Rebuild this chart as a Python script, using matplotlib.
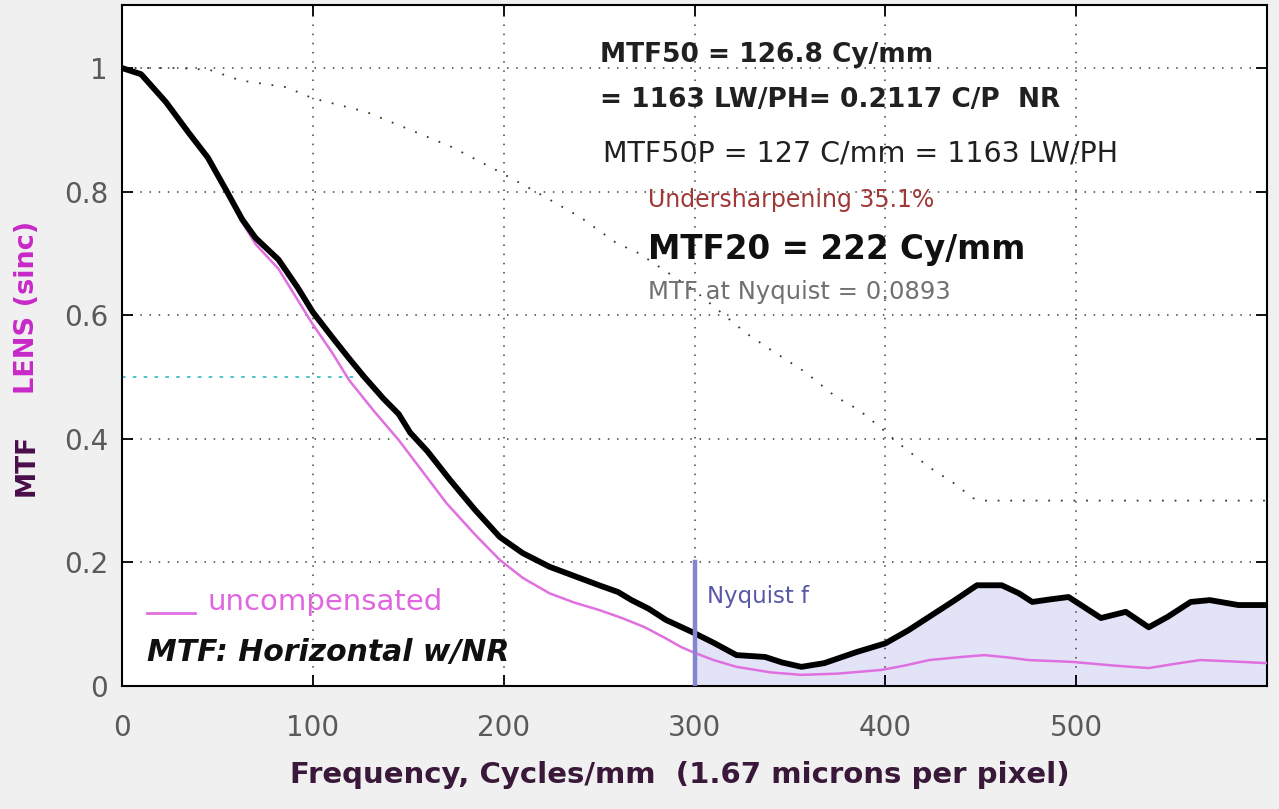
import matplotlib
matplotlib.use('Agg')
import matplotlib.pyplot as plt
import numpy as np

# MTF (with noise reduction), black curve
freq_nr = [0, 10, 23, 35, 45, 55, 63, 70, 82, 92, 100, 110, 119, 127, 137, 145, 151, 160,
           172, 185, 198, 210, 224, 237, 250, 260, 267, 276, 285, 299, 310, 322, 337, 346,
           356, 368, 385, 400, 412, 423, 436, 448, 461, 470, 477, 486, 496, 505, 513, 526,
           538, 548, 560, 570, 585, 600]
mtf_nr = [1.0, 0.99, 0.945, 0.895, 0.855, 0.80, 0.755, 0.725, 0.69, 0.645, 0.605, 0.565,
          0.53, 0.50, 0.465, 0.44, 0.41, 0.38, 0.333, 0.285, 0.241, 0.215, 0.193, 0.178,
          0.163, 0.152, 0.139, 0.125, 0.107, 0.087, 0.07, 0.05, 0.047, 0.038, 0.031, 0.037,
          0.055, 0.069, 0.09, 0.112, 0.138, 0.163, 0.163, 0.15, 0.136, 0.14, 0.144, 0.126,
          0.11, 0.12, 0.095, 0.112, 0.136, 0.139, 0.131, 0.131]

# uncompensated MTF, pink curve
freq_unc = [0, 10, 23, 35, 45, 55, 63, 70, 82, 92, 100, 110, 119, 132, 145, 158, 170, 185,
            198, 210, 224, 237, 250, 262, 274, 285, 293, 299, 310, 322, 340, 356, 375, 398,
            410, 423, 440, 452, 465, 475, 498, 520, 538, 552, 565, 580, 600]
mtf_unc = [1.0, 0.99, 0.945, 0.895, 0.855, 0.80, 0.75, 0.715, 0.675, 0.625, 0.585, 0.54,
           0.495, 0.445, 0.398, 0.345, 0.296, 0.245, 0.204, 0.175, 0.15, 0.135, 0.123, 0.11,
           0.095, 0.077, 0.063, 0.055, 0.042, 0.031, 0.022, 0.018, 0.02, 0.026, 0.033, 0.042,
           0.047, 0.05, 0.046, 0.042, 0.039, 0.033, 0.029, 0.036, 0.042, 0.04, 0.037]

# dotted reference curve
freq_ref = [0, 30, 46, 62, 86, 100, 128, 151, 173, 196, 215, 240, 259, 271, 300, 327, 340,
            358, 374, 386, 398, 406, 423, 436, 446, 450, 600]
mtf_ref = [1.0, 1.0, 0.997, 0.98, 0.969, 0.951, 0.929, 0.9, 0.872, 0.835, 0.803, 0.759,
           0.717, 0.70, 0.64, 0.571, 0.544, 0.508, 0.468, 0.447, 0.417, 0.395, 0.354, 0.328,
           0.304, 0.30, 0.30]

nyquist = 300
mtf50 = 126.8
xticks = [0, 100, 200, 300, 400, 500]
yticks = [0, 0.2, 0.4, 0.6, 0.8, 1]
ytick_labels = ['0', '0.2', '0.4', '0.6', '0.8', '1']

fig = plt.figure(figsize=(12.79, 8.09), dpi=100, facecolor='#f0f0f0')
ax = fig.add_axes([122 / 1279, 1 - 686 / 809, 1145 / 1279, 681 / 809])
ax.set_facecolor('white')

# shaded region above Nyquist (starts exactly at Nyquist)
fx = [nyquist] + [f for f in freq_nr if f > nyquist]
fy = np.interp(fx, freq_nr, mtf_nr)
ax.fill_between(fx, 0, fy, color='#e3e3f8', zorder=1)

ax.plot(freq_ref, mtf_ref, color='#3a3a20', lw=1.3, linestyle=(0, (1, 6)), zorder=2)
ax.plot([0, mtf50], [0.5, 0.5], color='#40c0c0', lw=1.3, linestyle=(0, (2, 4)), zorder=2)
ax.plot(freq_unc, mtf_unc, color='#e070e0', lw=1.8, zorder=3)
ax.plot(freq_nr, mtf_nr, color='black', lw=4.2, zorder=4, solid_capstyle='butt')
ax.plot([nyquist, nyquist], [0, 0.2], color='#8484d0', lw=3.2, zorder=5)

ax.set_xlim(0, 600)
ax.set_ylim(0, 1.102)
ax.set_xticks(xticks)
ax.set_yticks(yticks)
ax.set_yticklabels(ytick_labels)
ax.grid(True, linestyle=(0, (1, 5)), color='#404040', lw=1.1)
ax.tick_params(direction='in', length=8, width=1.3, top=True, right=True,
               labelsize=20, labelcolor='#5a5a5a')
ax.tick_params(axis='x', pad=20)
ax.tick_params(axis='y', pad=10)
for s in ax.spines.values():
    s.set_linewidth(1.5)

def fx_(px):
    return (px - 122) / 1145

def fy_(py):
    return (686 - py) / 681

t = ax.transAxes
ax.text(fx_(600), fy_(55), 'MTF50 = 126.8 Cy/mm', transform=t, fontsize=19,
        fontweight='bold', color='#202020', va='center')
ax.text(fx_(600), fy_(100), '= 1163 LW/PH= 0.2117 C/P  NR', transform=t, fontsize=19,
        fontweight='bold', color='#202020', va='center')
ax.text(fx_(603), fy_(153), 'MTF50P = 127 C/mm = 1163 LW/PH', transform=t, fontsize=20.5,
        color='#202020', va='center')
ax.text(fx_(648), fy_(200), 'Undersharpening 35.1%', transform=t, fontsize=17,
        color='#a03838', va='center')
ax.text(fx_(648), fy_(250), 'MTF20 = 222 Cy/mm', transform=t, fontsize=23.5,
        fontweight='bold', color='#101010', va='center')
ax.text(fx_(648), fy_(292), 'MTF at Nyquist = 0.0893', transform=t, fontsize=17.5,
        color='#707070', va='center')
ax.text(fx_(707), fy_(597), 'Nyquist f', transform=t, fontsize=16.5,
        color='#5858a8', va='center')

ax.plot([fx_(147), fx_(195)], [fy_(613), fy_(613)], transform=t, color='#e070e0', lw=2)
ax.text(fx_(207), fy_(602), 'uncompensated', transform=t, fontsize=21,
        color='#e066e0', va='center')
ax.text(fx_(147), fy_(652), 'MTF: Horizontal w/NR', transform=t, fontsize=21.5,
        fontweight='bold', fontstyle='italic', color='#101010', va='center')

# axis labels
fig.text(680 / 1279, 1 - 775 / 809, 'Frequency, Cycles/mm  (1.67 microns per pixel)',
         ha='center', va='center', fontsize=21, fontweight='bold', color='#3a183a')
fig.text(27 / 1279, 1 - 465 / 809, 'MTF', rotation=90, ha='center', va='center',
         fontsize=19, fontweight='bold', color='#4a0e4a')
fig.text(27 / 1279, 1 - 307 / 809, 'LENS (sinc)', rotation=90, ha='center', va='center',
         fontsize=19.5, fontweight='bold', color='#c828c8')

fig.savefig('out.png', dpi=100, facecolor=fig.get_facecolor())
